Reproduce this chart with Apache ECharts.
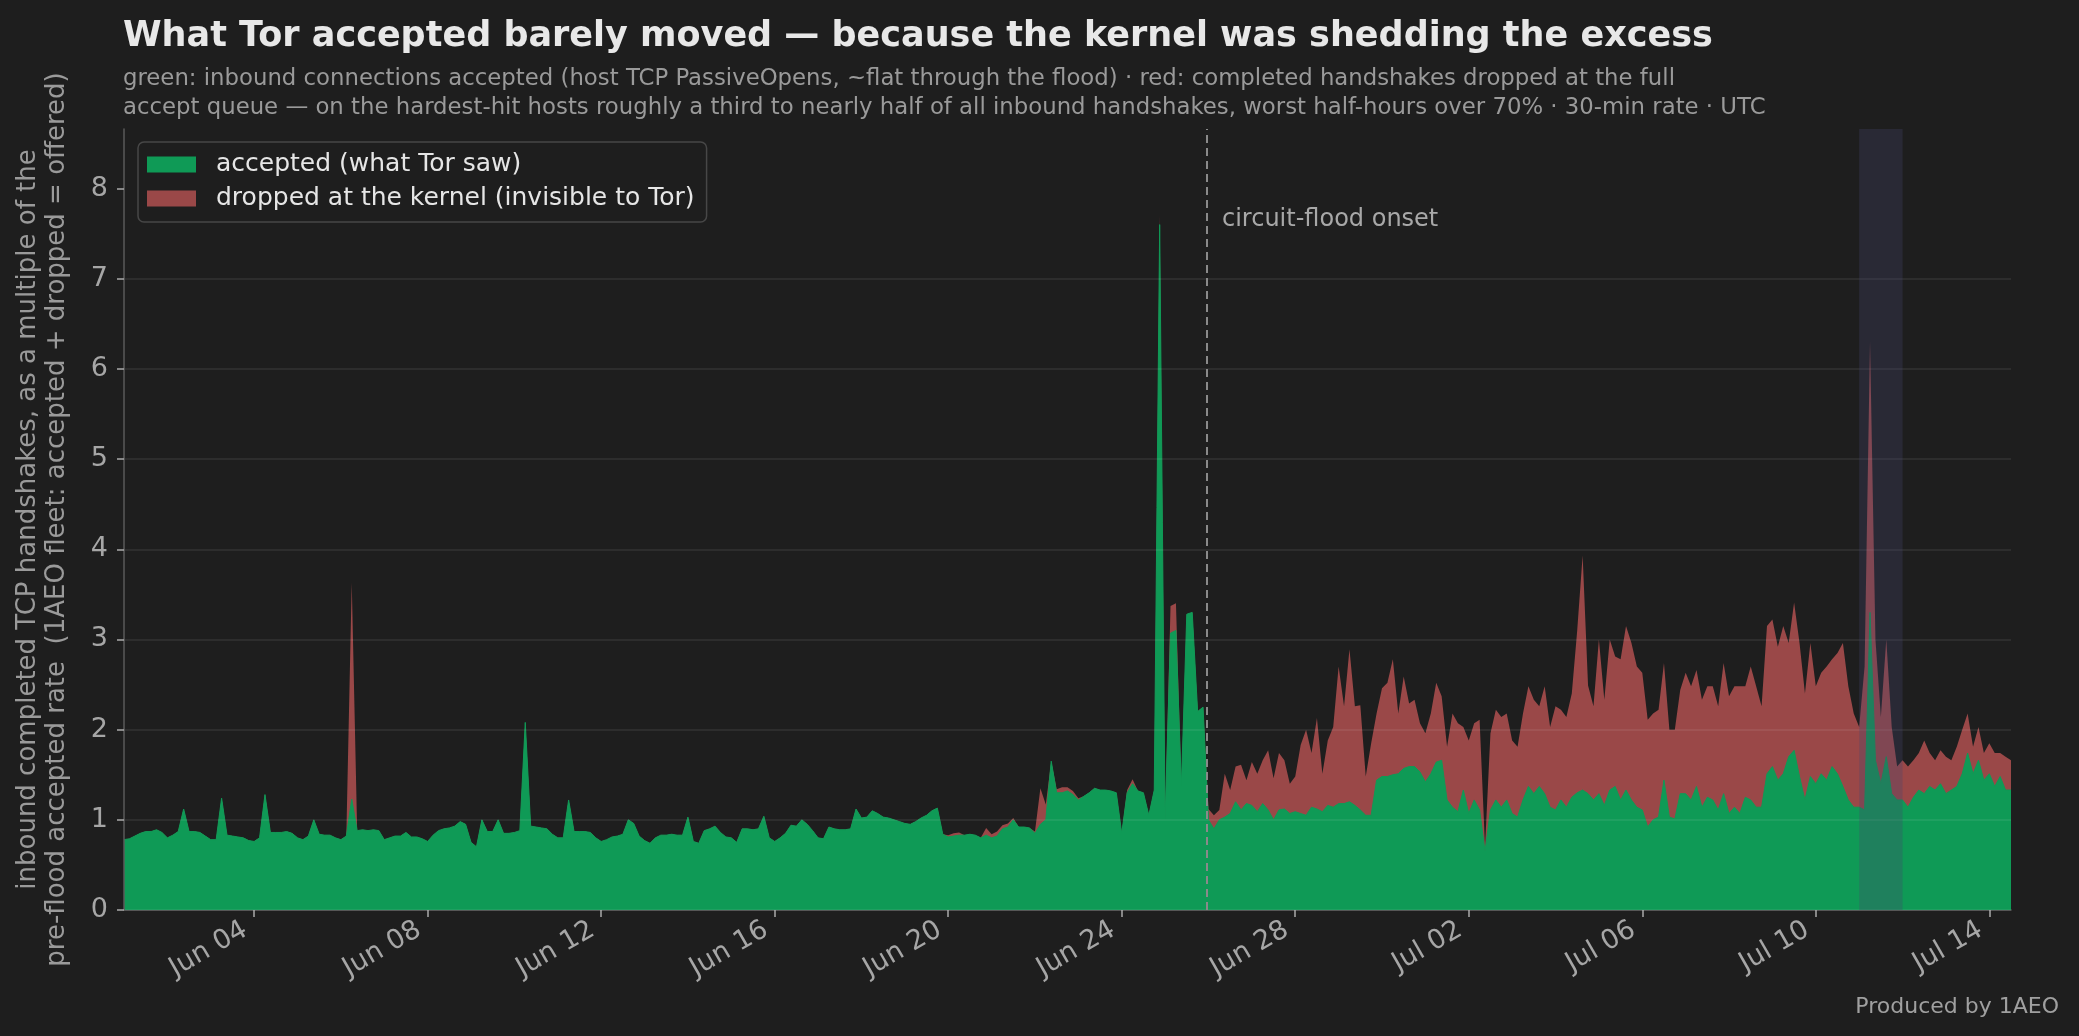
<!DOCTYPE html>
<html>
<head>
<meta charset="utf-8">
<title>What Tor accepted barely moved</title>
<script src="https://cdn.jsdelivr.net/npm/echarts@6.0.0/dist/echarts.min.js"></script>
<style>
  html, body { margin: 0; padding: 0; background: #1e1e1e; }
  #chart { width: 2079px; height: 1036px; }
</style>
</head>
<body>
<div id="chart"></div>
<script>
// 30-min series resampled to one value every 3 hours, UTC, from Jun 01 00:00
var START = Date.UTC(2025, 5, 1);
var STEP = 3 * 3600 * 1000;

// accepted (green), multiple of pre-flood accepted rate
var accepted = [
  0.78,0.79,0.82,0.85,0.87,0.87,0.89,0.86, // Jun 01
  0.80,0.83,0.87,1.12,0.87,0.87,0.86,0.82, // Jun 02
  0.78,0.78,1.24,0.83,0.82,0.81,0.80,0.77, // Jun 03
  0.76,0.80,1.28,0.86,0.86,0.86,0.87,0.85, // Jun 04
  0.80,0.78,0.82,1.00,0.84,0.83,0.83,0.80, // Jun 05
  0.78,0.82,1.23,0.88,0.89,0.88,0.89,0.88, // Jun 06
  0.78,0.80,0.82,0.82,0.86,0.81,0.81,0.79, // Jun 07
  0.76,0.83,0.88,0.90,0.91,0.93,0.98,0.95, // Jun 08
  0.75,0.70,1.00,0.87,0.87,1.00,0.85,0.85, // Jun 09
  0.86,0.88,2.08,0.93,0.92,0.91,0.90,0.84, // Jun 10
  0.80,0.80,1.22,0.87,0.87,0.87,0.86,0.80, // Jun 11
  0.76,0.78,0.81,0.82,0.84,1.00,0.96,0.82, // Jun 12
  0.77,0.74,0.80,0.83,0.83,0.84,0.83,0.83, // Jun 13
  1.03,0.76,0.74,0.88,0.90,0.93,0.86,0.81, // Jun 14
  0.80,0.75,0.90,0.90,0.89,0.90,1.04,0.80, // Jun 15
  0.76,0.80,0.85,0.94,0.93,1.00,0.95,0.88, // Jun 16
  0.80,0.79,0.92,0.90,0.89,0.89,0.90,1.12, // Jun 17
  1.02,1.03,1.10,1.07,1.03,1.02,1.00,0.98, // Jun 18
  0.96,0.95,0.98,1.02,1.05,1.10,1.13,0.84, // Jun 19
  0.81,0.82,0.83,0.83,0.84,0.83,0.80,0.83, // Jun 20
  0.80,0.82,0.90,0.92,1.00,0.92,0.92,0.91, // Jun 21
  0.85,0.95,1.00,1.65,1.30,1.30,1.32,1.28, // Jun 22
  1.22,1.26,1.30,1.35,1.33,1.33,1.32,1.30, // Jun 23
  0.85,1.30,1.40,1.32,1.30,1.05,1.33,7.60, // Jun 24
  1.00,3.07,3.10,1.37,3.28,3.30,2.20,2.25, // Jun 25
  1.00,0.90,1.00,1.03,1.07,1.20,1.11,1.18, // Jun 26
  1.16,1.09,1.18,1.11,1.00,1.11,1.12,1.07, // Jun 27
  1.09,1.07,1.05,1.14,1.12,1.09,1.16,1.14, // Jun 28
  1.18,1.18,1.20,1.16,1.11,1.05,1.05,1.44, // Jun 29
  1.48,1.48,1.50,1.51,1.57,1.59,1.59,1.53, // Jun 30
  1.42,1.51,1.64,1.66,1.22,1.14,1.09,1.33, // Jul 01
  1.07,1.22,1.11,0.65,1.11,1.22,1.14,1.22, // Jul 02
  1.07,1.03,1.22,1.37,1.29,1.37,1.29,1.14, // Jul 03
  1.11,1.22,1.14,1.25,1.30,1.33,1.29,1.22, // Jul 04
  1.29,1.16,1.33,1.37,1.22,1.33,1.22,1.14, // Jul 05
  1.11,0.92,1.00,1.03,1.44,1.03,1.01,1.29, // Jul 06
  1.29,1.22,1.37,1.14,1.25,1.22,1.11,1.29, // Jul 07
  1.07,1.14,1.07,1.25,1.22,1.14,1.14,1.51, // Jul 08
  1.59,1.44,1.51,1.70,1.77,1.48,1.22,1.48, // Jul 09
  1.40,1.51,1.44,1.59,1.51,1.37,1.22,1.14, // Jul 10
  1.14,1.11,3.30,1.66,1.40,1.70,1.29,1.22, // Jul 11
  1.22,1.14,1.25,1.33,1.29,1.37,1.33,1.40, // Jul 12
  1.29,1.33,1.37,1.51,1.74,1.51,1.66,1.44, // Jul 13
  1.51,1.37,1.48,1.33,1.33                 // Jul 14
];

// dropped at the full accept queue (red), sits on top of accepted
var dropped = [
  0,0,0,0,0,0,0,0, // Jun 01
  0,0,0,0,0,0,0,0, // Jun 02
  0,0,0,0,0,0,0,0, // Jun 03
  0,0,0,0,0,0,0,0, // Jun 04
  0,0,0,0,0,0,0,0, // Jun 05
  0,0,2.40,0,0,0,0,0, // Jun 06
  0,0,0,0,0,0,0,0, // Jun 07
  0,0,0,0,0,0,0,0, // Jun 08
  0,0,0,0,0,0,0,0, // Jun 09
  0,0,0,0,0,0,0,0, // Jun 10
  0,0,0,0,0,0,0,0, // Jun 11
  0,0,0,0,0,0,0,0, // Jun 12
  0,0,0,0,0,0,0,0, // Jun 13
  0,0,0,0,0,0,0,0, // Jun 14
  0,0,0,0,0,0,0,0, // Jun 15
  0,0,0,0,0,0,0,0, // Jun 16
  0,0,0,0,0,0,0,0, // Jun 17
  0,0,0,0,0,0,0,0, // Jun 18
  0,0,0,0,0,0,0,0, // Jun 19
  0.02,0.03,0.03,0,0,0,0,0.08, // Jun 20
  0.04,0.05,0.04,0.04,0.02,0,0,0, // Jun 21
  0.02,0.40,0.17,0,0.04,0.06,0.04,0.04, // Jun 22
  0.02,0,0,0,0,0,0,0, // Jun 23
  0,0.03,0.05,0,0,0,0,0.10, // Jun 24
  0,0.30,0.30,0,0,0,0,0, // Jun 25
  0.12,0.15,0.11,0.48,0.26,0.39,0.50,0.26, // Jun 26
  0.48,0.42,0.48,0.66,0.46,0.63,0.54,0.33, // Jun 27
  0.39,0.76,0.95,0.60,1.01,0.42,0.72,0.89, // Jun 28
  1.52,1.08,1.69,1.10,1.16,0.43,0.80,0.74, // Jun 29
  0.98,1.04,1.28,0.67,1.02,0.70,0.74,0.54, // Jun 30
  0.54,0.67,0.88,0.71,0.59,1.04,0.98,0.70, // Jul 01
  0.81,0.85,1.00,0.05,0.85,1.00,1.00,0.96, // Jul 02
  0.81,0.78,0.96,1.11,1.04,0.89,1.19,0.89, // Jul 03
  1.15,1.00,1.00,1.15,1.80,2.60,1.20,1.04, // Jul 04
  1.71,1.17,1.67,1.44,1.56,1.82,1.74,1.56, // Jul 05
  1.52,1.19,1.18,1.19,1.30,0.97,0.99,1.15, // Jul 06
  1.34,1.26,1.29,1.19,1.23,1.26,1.15,1.45, // Jul 07
  1.30,1.34,1.41,1.23,1.48,1.34,1.12,1.64, // Jul 08
  1.63,1.48,1.64,1.26,1.64,1.48,1.18,1.48, // Jul 09
  1.08,1.12,1.26,1.19,1.34,1.59,1.26,1.04, // Jul 10
  0.89,1.59,3.00,1.34,0.74,1.30,0.74,0.37, // Jul 11
  0.44,0.45,0.41,0.41,0.59,0.37,0.33,0.37, // Jul 12
  0.41,0.33,0.44,0.49,0.44,0.30,0.37,0.30, // Jul 13
  0.34,0.37,0.26,0.37,0.33                 // Jul 14
];

var tickDates = ['2025-06-04','2025-06-08','2025-06-12','2025-06-16','2025-06-20','2025-06-24',
                 '2025-06-28','2025-07-02','2025-07-06','2025-07-10','2025-07-14'];
var yTicks = [0, 1, 2, 3, 4, 5, 6, 7, 8];
var onset = '2025-06-25T23:00:00Z';
var shadedDay = ['2025-07-11T00:00:00Z', '2025-07-12T00:00:00Z'];
var MONTHS = ['Jan','Feb','Mar','Apr','May','Jun','Jul','Aug','Sep','Oct','Nov','Dec'];

var GREEN = '#0f9a56';
var RED = '#9a4848';
var FONT = 'DejaVu Sans';
var NAME_ACC = 'accepted (what Tor saw)';
var NAME_DROP = 'dropped at the kernel (invisible to Tor)';

(function() {
  var myChart = echarts.init(document.getElementById('chart'));

  var times = accepted.map(function(v, i) { return START + i * STEP; });
  var tickTimes = tickDates.map(function(d) { return Date.parse(d); });
  // red band goes from 0 up to accepted + dropped, green is painted over its lower part
  var offered = accepted.map(function(v, i) { return +(v + dropped[i]).toFixed(2); });

  var option = {
    backgroundColor: '#1e1e1e',
    animation: false,
    textStyle: { fontFamily: FONT },
    title: [
      {
        text: 'What Tor accepted barely moved \u2014 because the kernel was shedding the excess',
        left: 123, top: 19, padding: 0,
        textStyle: { color: '#e8e8e8', fontSize: 35, fontWeight: 'bold', fontFamily: FONT }
      },
      {
        text: 'green: inbound connections accepted (host TCP PassiveOpens, ~flat through the flood) \u00b7 red: completed handshakes dropped at the full\n' +
              'accept queue \u2014 on the hardest-hit hosts roughly a third to nearly half of all inbound handshakes, worst half-hours over 70% \u00b7 30-min rate \u00b7 UTC',
        left: 123, top: 65, padding: 0,
        textStyle: { color: '#9a9a9a', fontSize: 22.8, fontWeight: 'normal', lineHeight: 29, fontFamily: FONT }
      }
    ],
    legend: {
      orient: 'vertical',
      left: 138, top: 142,
      padding: [10, 12, 11, 9],
      itemWidth: 49, itemHeight: 16,
      itemGap: 9,
      icon: 'rect',
      backgroundColor: 'rgba(30,30,30,0.85)',
      borderColor: '#474747', borderWidth: 1.5, borderRadius: 6,
      textStyle: { color: '#e6e6e6', fontSize: 25, fontFamily: FONT, padding: [0, 0, 0, 15] },
      data: [NAME_ACC, NAME_DROP]
    },
    grid: { left: 124, right: 68, top: 129, bottom: 126 },
    xAxis: {
      type: 'value',
      min: START,
      max: Date.UTC(2025, 6, 14, 12),
      axisLine: { lineStyle: { color: '#5a5a5a', width: 1.5 } },
      axisTick: { show: true, customValues: tickTimes, length: 7, lineStyle: { color: '#aaaaaa', width: 1.5 } },
      axisLabel: {
        customValues: tickTimes,
        rotate: 30, margin: 13,
        padding: [0, 10, 0, 0],
        color: '#a6a6a6', fontSize: 27, fontFamily: FONT,
        formatter: function(v) {
          var d = new Date(v);
          var day = d.getUTCDate();
          return MONTHS[d.getUTCMonth()] + ' ' + (day < 10 ? '0' + day : day);
        }
      },
      splitLine: { show: false }
    },
    yAxis: {
      type: 'value',
      min: 0, max: 8.66, interval: 1,
      z: 3,
      name: 'inbound completed TCP handshakes, as a multiple of the\npre-flood accepted rate  (1AEO fleet: accepted + dropped = offered)',
      nameLocation: 'middle', nameGap: 52,
      nameTextStyle: { color: '#9a9a9a', fontSize: 26, lineHeight: 29, fontFamily: FONT },
      axisLine: { show: true, lineStyle: { color: '#5a5a5a', width: 1.5 } },
      axisTick: { show: true, customValues: yTicks, length: 7, lineStyle: { color: '#aaaaaa', width: 1.5 } },
      axisLabel: { customValues: yTicks, margin: 16, color: '#a6a6a6', fontSize: 27, fontFamily: FONT },
      splitLine: { show: true, showMaxLine: false, lineStyle: { color: 'rgba(255,255,255,0.09)', width: 1.5 } }
    },
    series: [
      {
        name: NAME_DROP,
        type: 'line',
        symbol: 'none',
        color: RED,
        z: 2,
        lineStyle: { width: 0 },
        areaStyle: { color: RED, opacity: 1 },
        data: times.map(function(t, i) { return [t, offered[i]]; }),
        markArea: {
          silent: true, z: 4,
          itemStyle: { color: 'rgba(68,71,108,0.3)' },
          data: [[{ xAxis: Date.parse(shadedDay[0]) }, { xAxis: Date.parse(shadedDay[1]) }]]
        }
      },
      {
        name: NAME_ACC,
        type: 'line',
        symbol: 'none',
        color: GREEN,
        z: 2,
        lineStyle: { width: 1, color: GREEN },
        areaStyle: { color: GREEN, opacity: 1 },
        data: times.map(function(t, i) { return [t, accepted[i]]; }),
        markLine: {
          silent: true, symbol: 'none', z: 5,
          label: { show: false },
          lineStyle: { color: '#8a8a8a', type: [8, 5], width: 2 },
          data: [{ xAxis: Date.parse(onset) }]
        }
      }
    ],
    graphic: [
      {
        type: 'text', left: 1222, top: 208,
        style: { text: 'circuit-flood onset', fill: '#a8a8a8', font: '24px "DejaVu Sans"' }
      },
      {
        type: 'text', right: 20, top: 996,
        style: { text: 'Produced by 1AEO', fill: '#a0a0a0', font: '22px "DejaVu Sans"' }
      }
    ]
  };

  myChart.setOption(option);
  window.addEventListener('resize', function() {
    myChart.resize();
  });
})();
</script>
</body>
</html>
